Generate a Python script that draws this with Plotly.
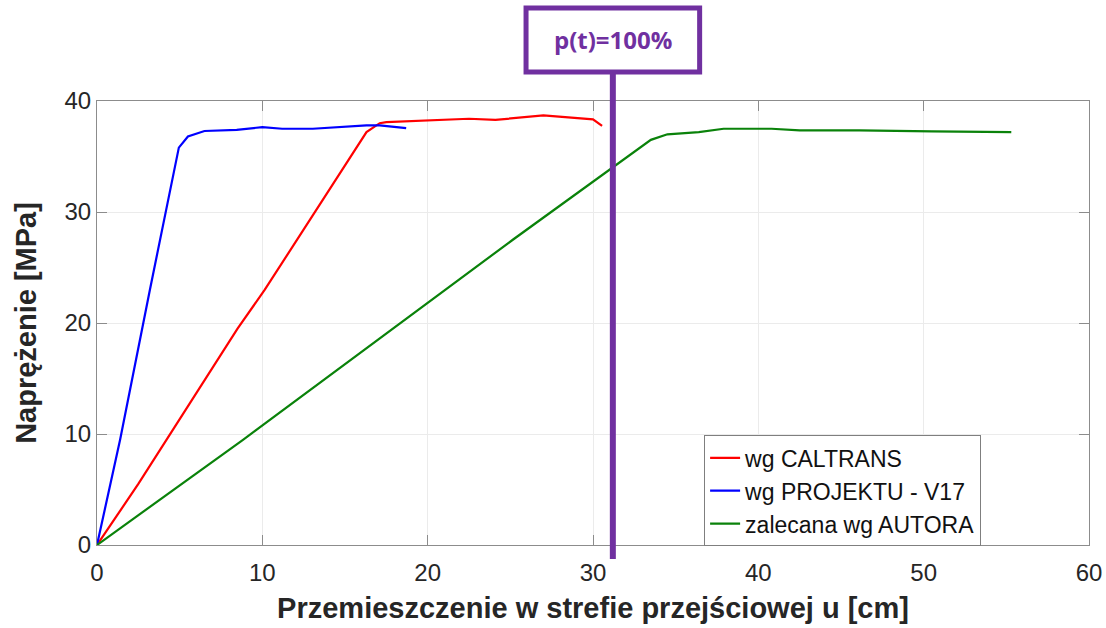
import plotly.graph_objects as go

# Stress-displacement curves in the transition zone
u_caltrans = [0, 2.5, 8.5, 10.15, 16.3, 17.1, 17.5, 22.5, 24.1, 27.0, 30.0, 30.55]
s_caltrans = [0, 5.5, 19.5, 23.0, 37.2, 38.0, 38.1, 38.4, 38.3, 38.7, 38.35, 37.75]

u_projekt = [0, 1.4, 3.2, 4.95, 5.5, 6.5, 8.45, 10.0, 11.2, 13.05, 16.3, 17.1, 18.7]
s_projekt = [0, 9.5, 23.0, 35.8, 36.8, 37.3, 37.4, 37.65, 37.5, 37.5, 37.8, 37.8, 37.55]

u_autor = [0, 8.85, 25.15, 33.0, 33.5, 34.5, 36.4, 37.9, 40.8, 42.5, 46.1, 50.5, 55.3]
s_autor = [0, 9.5, 27.5, 35.9, 36.5, 37.0, 37.2, 37.5, 37.5, 37.35, 37.35, 37.27, 37.2]

series_names = ["wg CALTRANS", "wg PROJEKTU - V17", "zalecana wg AUTORA"]
series_colors = ["#ff0000", "#0000ff", "#0a820a"]

marker_u = 31.2
marker_label = "p(t)=100%"
purple = "#7030a0"

x_ticks = [0, 10, 20, 30, 40, 50, 60]
y_ticks = [0, 10, 20, 30, 40]

fig = go.Figure()
for u, s, name, col in zip(
    [u_caltrans, u_projekt, u_autor],
    [s_caltrans, s_projekt, s_autor],
    series_names,
    series_colors,
):
    fig.add_trace(go.Scatter(x=u, y=s, mode="lines", name=name,
                             line=dict(color=col, width=2.2)))

axis_common = dict(
    showgrid=True, gridcolor="#ebebeb", gridwidth=1,
    showline=True, linecolor="#8c8c8c", linewidth=1.2, mirror="ticks",
    ticks="inside", ticklen=10, tickcolor="#8c8c8c", tickwidth=1.2,
    zeroline=False, automargin=False,
    tickfont=dict(family="Liberation Sans", size=24, color="#262626"),
)
title_font = dict(family="Liberation Sans", size=29, color="#262626")

fig.update_xaxes(range=[0, 60], tickvals=x_ticks, ticklabelstandoff=6, **axis_common,
                 title=dict(text="<b>Przemieszczenie w strefie przejściowej u [cm]</b>",
                            font=title_font, standoff=12))
fig.update_yaxes(range=[0, 40], tickvals=y_ticks, **axis_common,
                 title=dict(text="<b>Naprężenie [MPa]</b>",
                            font=title_font, standoff=19))

# vertical marker line and its label box
fig.add_shape(type="line", xref="x", yref="paper",
              x0=marker_u, x1=marker_u, y0=-0.0315, y1=1.0653,
              line=dict(color=purple, width=6), layer="above")
fig.add_shape(type="rect", xref="x", yref="paper",
              x0=marker_u - 5.25, x1=marker_u + 5.25, y0=1.0653, y1=1.2095,
              line=dict(color=purple, width=5), fillcolor="white", layer="above")
fig.add_annotation(x=marker_u, y=1.1374, xref="x", yref="paper",
                   xanchor="center", yanchor="middle",
                   text=f"<b>{marker_label}</b>", showarrow=False,
                   font=dict(family="Open Sans", size=24, color=purple))

fig.update_layout(
    width=1106, height=628,
    margin=dict(l=97, r=17, t=101, b=83),
    plot_bgcolor="white", paper_bgcolor="white",
    showlegend=True,
    legend=dict(
        x=0.612, y=0.247, xanchor="left", yanchor="top",
        bgcolor="white", bordercolor="#7f7f7f", borderwidth=1,
        font=dict(family="Liberation Sans", size=23, color="#111111"),
        itemwidth=30, tracegroupgap=0,
    ),
)

fig.write_html("out.html")
